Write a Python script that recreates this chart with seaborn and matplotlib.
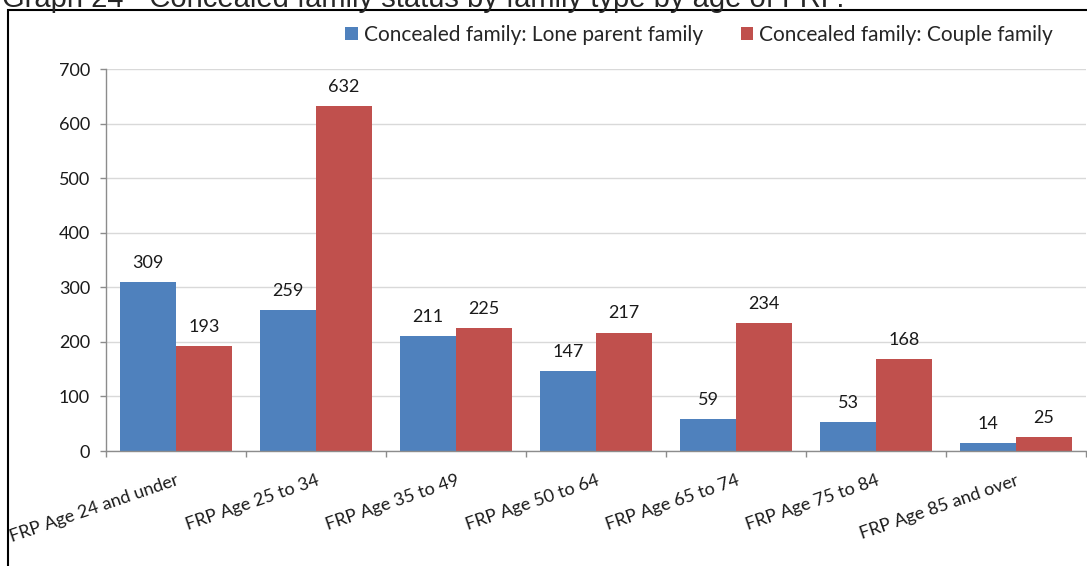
import pandas as pd
import matplotlib
matplotlib.use("Agg")
import matplotlib.pyplot as plt
from matplotlib.patches import Rectangle
import seaborn as sns

# chart data
ages = ["FRP Age 24 and under", "FRP Age 25 to 34", "FRP Age 35 to 49",
        "FRP Age 50 to 64", "FRP Age 65 to 74", "FRP Age 75 to 84",
        "FRP Age 85 and over"]
lone_parent = [309, 259, 211, 147, 59, 53, 14]
couple = [193, 632, 225, 217, 234, 168, 25]
series = ["Concealed family: Lone parent family",
          "Concealed family: Couple family"]
y_ticks = [0, 100, 200, 300, 400, 500, 600, 700]

df = pd.DataFrame({
    "age": ages * 2,
    "count": lone_parent + couple,
    "type": [series[0]] * len(ages) + [series[1]] * len(ages),
})

sns.set_style("white")
plt.rcParams["font.family"] = ["Lato", "DejaVu Sans"]

fig = plt.figure(figsize=(10.87, 5.66), dpi=100)
W, H = 1087, 566
ax = fig.add_axes([106 / W, 1 - 451 / H, (1086 - 106) / W, (451 - 69) / H])

sns.barplot(data=df, x="age", y="count", hue="type", order=ages,
            hue_order=series, palette=["#4F81BD", "#C0504D"],
            saturation=1, width=0.8, linewidth=0, ax=ax)

# value labels
for cont in ax.containers:
    ax.bar_label(cont, padding=8, fontsize=13, color="#1a1a1a")

# axes styling
ax.set_ylim(0, 700)
ax.set_xlim(-0.5, len(ages) - 0.5)
ax.set_yticks(y_ticks)
ax.set_xlabel("")
ax.set_ylabel("")
ax.yaxis.grid(True, color="#D9D9D9", linewidth=1)
ax.set_axisbelow(True)
for s in ["top", "right"]:
    ax.spines[s].set_visible(False)
for s in ["left", "bottom"]:
    ax.spines[s].set_color("#8C8C8C")
    ax.spines[s].set_linewidth(1)
ax.tick_params(axis="y", left=True, length=4.5, width=1, color="#8C8C8C",
               labelsize=13, labelcolor="#1a1a1a", pad=7)
ax.set_xticks([i - 0.5 for i in range(len(ages) + 1)], minor=True)
ax.tick_params(axis="x", which="minor", bottom=True, length=4.5, width=1,
               color="#8C8C8C")
ax.tick_params(axis="x", which="major", bottom=False, labelsize=13,
               labelcolor="#1a1a1a", pad=12)
for lab in ax.get_xticklabels():
    lab.set_rotation(19)
    lab.set_ha("right")
    lab.set_va("top")
    lab.set_rotation_mode("anchor")

# legend along the top
ax.legend(title=None, ncol=2, frameon=False, fontsize=15,
          loc="center right", bbox_to_anchor=(1053 / W, 1 - 35 / H),
          bbox_transform=fig.transFigure, handlelength=0.6,
          handleheight=0.6, handletextpad=0.3, columnspacing=1.8,
          borderaxespad=0, borderpad=0)

# outer frame and clipped heading
fig.add_artist(Rectangle((8 / W, -0.1), 1.2, 1.1 - 10 / H, fill=False,
                         edgecolor="black", linewidth=1.5,
                         transform=fig.transFigure))
fig.text(2 / W, 1 - 7 / H,
         "Graph 24 - Concealed family status by family type by age of FRP.",
         fontsize=21, family="Liberation Sans", va="baseline", ha="left")

fig.savefig("out.png", dpi=100)
